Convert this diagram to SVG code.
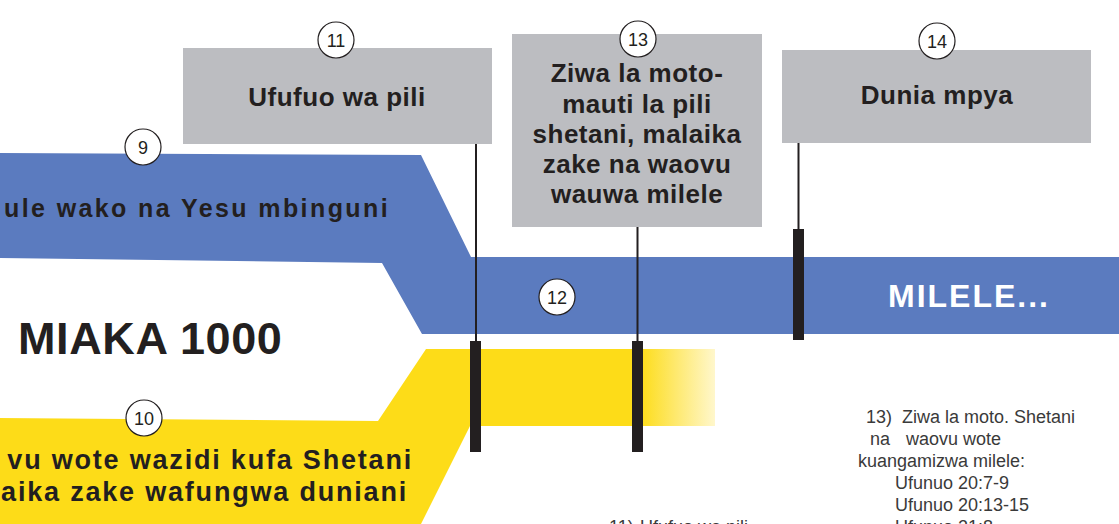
<svg xmlns="http://www.w3.org/2000/svg" width="1119" height="524" viewBox="0 0 1119 524">
<style>
.box{fill:#bcbdc1}
.bt{font-family:"Liberation Sans",Arial,sans-serif;font-weight:bold;font-size:26px;fill:#231f20;text-anchor:middle;letter-spacing:0.5px}
.num circle{fill:#fff;stroke:#231f20;stroke-width:1.2}
.num text{font-family:"Liberation Sans",Arial,sans-serif;font-size:18px;fill:#231f20;text-anchor:middle}
.thin{stroke:#231f20;stroke-width:2}
.bar{fill:#231f20}
.band{font-family:"Liberation Sans",Arial,sans-serif;font-weight:bold;fill:#231f20}
.note{font-family:"Liberation Sans",Arial,sans-serif;font-size:18px;fill:#3a3a3a}
</style>
<defs>
<linearGradient id="fade" gradientUnits="userSpaceOnUse" x1="640" y1="0" x2="715" y2="0">
<stop offset="0" stop-color="#fddc18"/>
<stop offset="1" stop-color="#fff7cc"/>
</linearGradient>
</defs>
<rect width="1119" height="524" fill="#fff"/>

<g id="band-blue">
<path d="M0,153 L421,155 L471,257 L1119,257 L1119,334 L422,334 L382,263 L0,258 Z" fill="#5b7bbf"/>
<text class="band" x="390" y="217" font-size="25" letter-spacing="2.4" text-anchor="end">ule wako na Yesu mbinguni</text>
<text x="1050" y="307" font-family="Liberation Sans,Arial,sans-serif" font-weight="bold" font-size="32" letter-spacing="2" fill="#fff" text-anchor="end">MILELE...</text>
</g>

<g id="band-yellow">
<path d="M0,418 L378,421 L426,349 L715,349 L715,426 L470,426 L421,524 L0,524 Z" fill="url(#fade)"/>
<text class="band" x="413" y="469" font-size="27" letter-spacing="1.8" text-anchor="end">vu wote wazidi kufa Shetani</text>
<text class="band" x="408" y="501" font-size="27" letter-spacing="1.8" text-anchor="end">aika zake wafungwa duniani</text>
</g>

<g id="miaka">
<text class="band" x="18" y="354" font-size="45" letter-spacing="0.6">MIAKA 1000</text>
</g>

<g id="connectors">
<line class="thin" x1="476" y1="144" x2="476" y2="342"/>
<rect class="bar" x="470" y="341" width="11" height="111"/>
<line class="thin" x1="637.5" y1="227" x2="637.5" y2="342"/>
<rect class="bar" x="632" y="341" width="11" height="111"/>
<line class="thin" x1="798.5" y1="143" x2="798.5" y2="230"/>
<rect class="bar" x="793" y="229" width="11" height="111"/>
</g>

<g id="node11">
<rect class="box" x="183" y="48" width="309" height="96"/>
<text class="bt" x="337" y="106">Ufufuo wa pili</text>
</g>
<g id="node13">
<rect class="box" x="512" y="34" width="250" height="193"/>
<text class="bt" x="637" y="82">Ziwa la moto-</text>
<text class="bt" x="637" y="113">mauti la pili</text>
<text class="bt" x="637" y="143">shetani, malaika</text>
<text class="bt" x="637" y="173">zake na waovu</text>
<text class="bt" x="637" y="203">wauwa milele</text>
</g>
<g id="node14">
<rect class="box" x="782" y="50" width="309" height="93"/>
<text class="bt" x="937" y="104">Dunia mpya</text>
</g>

<g id="num9" class="num"><circle cx="143" cy="147" r="18"/><text x="143" y="153.5">9</text></g>
<g id="num10" class="num"><circle cx="144" cy="418" r="18"/><text x="144" y="424.5">10</text></g>
<g id="num11" class="num"><circle cx="336" cy="40" r="18"/><text x="336" y="46.5">11</text></g>
<g id="num12" class="num"><circle cx="557" cy="297" r="18"/><text x="557" y="303.5">12</text></g>
<g id="num13" class="num"><circle cx="638" cy="39" r="18"/><text x="638" y="45.5">13</text></g>
<g id="num14" class="num"><circle cx="937" cy="41" r="18"/><text x="937" y="47.5">14</text></g>

<g id="note13">
<text class="note" y="423"><tspan x="866">13)</tspan><tspan x="902">Ziwa la moto. Shetani</tspan></text>
<text class="note" y="445"><tspan x="870">na</tspan><tspan x="906">waovu wote</tspan></text>
<text class="note" x="858" y="467">kuangamizwa milele:</text>
<text class="note" x="895" y="489">Ufunuo 20:7-9</text>
<text class="note" x="895" y="511">Ufunuo 20:13-15</text>
<text class="note" x="895" y="533">Ufunuo 21:8</text>
</g>
<g id="note11">
<text class="note" y="533"><tspan x="609">11)</tspan><tspan x="640">Ufufuo wa pili</tspan></text>
</g>
</svg>
